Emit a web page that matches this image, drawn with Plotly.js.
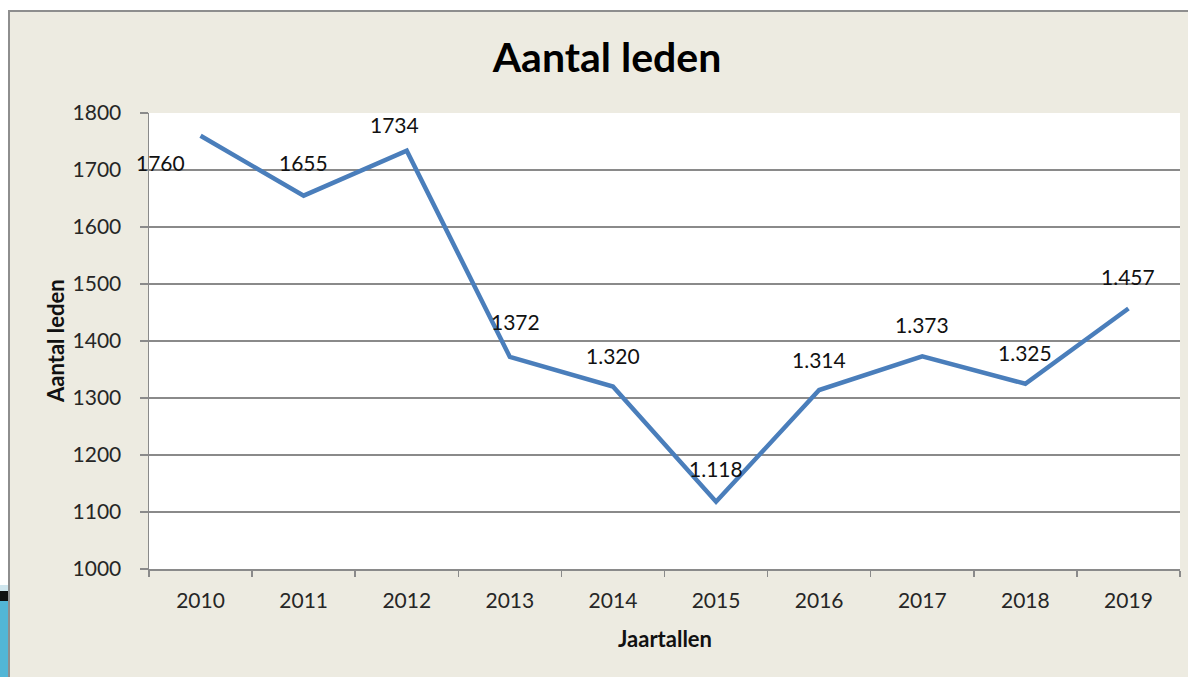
<!DOCTYPE html>
<html>
<head>
<meta charset="utf-8">
<script src="https://cdn.plot.ly/plotly-3.0.1.min.js"></script>
<style>
  html, body { margin: 0; padding: 0; background: #ffffff; width: 1188px; height: 677px; overflow: hidden; }
  #frame { position: absolute; left: 8px; top: 10px; width: 1180px; height: 667px; background: #EDEBE1;
           border-left: 2px solid #8e8e8e; border-top: 2px solid #8e8e8e; box-sizing: border-box; }
  #deco1 { position: absolute; left: 0; top: 585px; width: 8px; height: 6px; background: #cfe6ee; }
  #deco2 { position: absolute; left: 0; top: 591px; width: 8px; height: 10px; background: #111; }
  #deco3 { position: absolute; left: 0; top: 601px; width: 8px; height: 76px; background: #52b6d6; }
  #chart { position: absolute; left: 0; top: 0; width: 1188px; height: 677px; }
</style>
</head>
<body>
<div id="frame"></div>
<div id="deco1"></div><div id="deco2"></div><div id="deco3"></div>
<div id="chart"></div>
<script>
// ---- data ----
const years = ["2010", "2011", "2012", "2013", "2014", "2015", "2016", "2017", "2018", "2019"];
const members = [1760, 1655, 1734, 1372, 1320, 1118, 1314, 1373, 1325, 1457];
const labelTexts = ["1760", "1655", "1734", "1372", "1.320", "1.118", "1.314", "1.373", "1.325", "1.457"];
const yTicks = [1000, 1100, 1200, 1300, 1400, 1500, 1600, 1700, 1800];

// ---- style: label pixel offsets relative to each point ----
const labelDx = [-40, 0, -12, 6, 0, 0, 0, 0, 0, 0];
const labelDy = [27, -33, -26, -35, -31, -33, -31, -32, -31, -32];

const FONT = "Lato, 'Open Sans', sans-serif";
const TXT = "#111111";
const TICK = "#262626";

const annotations = years.map((yr, i) => ({
  x: i, y: members[i], xref: "x", yref: "y",
  text: labelTexts[i], showarrow: false,
  xshift: labelDx[i], yshift: -labelDy[i],
  font: { family: FONT, size: 21, color: TXT }
}));

annotations.push({
  xref: "paper", yref: "paper", x: 0, y: 0.5, xshift: -94,
  xanchor: "center", yanchor: "middle", textangle: -90, showarrow: false,
  text: "<b>Aantal leden</b>", font: { family: FONT, size: 22, color: TXT }
});
annotations.push({
  xref: "paper", yref: "paper", x: 0.5, y: 0, yshift: -69,
  xanchor: "center", yanchor: "middle", showarrow: false,
  text: "<b>Jaartallen</b>", font: { family: FONT, size: 22, color: TXT }
});

const trace = {
  type: "scatter", mode: "lines",
  x: years, y: members,
  line: { color: "#4A7EBB", width: 4.5 },
  hoverinfo: "skip"
};

const layout = {
  width: 1188, height: 677,
  margin: { l: 149, r: 8, t: 113, b: 108 },
  paper_bgcolor: "rgba(0,0,0,0)",
  plot_bgcolor: "#ffffff",
  showlegend: false,
  title: {
    text: "<b>Aantal leden</b>",
    font: { family: FONT, size: 41, color: "#000000" },
    x: 607 / 1188, xanchor: "center",
    y: 1 - 58 / 677, yanchor: "middle", xref: "container", yref: "container"
  },
  xaxis: {
    type: "category",
    categoryorder: "array", categoryarray: years,
    range: [-0.5, years.length - 0.5],
    tickson: "boundaries",
    ticks: "outside", ticklen: 6, tickcolor: "#8a8a8a", tickwidth: 1.5,
    showline: true, linecolor: "#8a8a8a", linewidth: 1.5,
    showgrid: false, zeroline: false,
    tickfont: { family: FONT, size: 21, color: TICK },
    ticklabelstandoff: 12,
    fixedrange: true
  },
  yaxis: {
    range: [1000, 1800],
    tickvals: yTicks, ticktext: yTicks.map(String),
    ticks: "outside", ticklen: 8, tickcolor: "#8a8a8a", tickwidth: 1.5,
    showline: true, linecolor: "#8a8a8a", linewidth: 1.5,
    showgrid: true, gridcolor: "#8a8a8a", gridwidth: 1.5,
    zeroline: false,
    tickfont: { family: FONT, size: 21, color: TICK },
    ticklabelstandoff: 14,
    fixedrange: true
  },
  annotations: annotations
};

Plotly.newPlot("chart", [trace], layout, { staticPlot: true, displayModeBar: false });
</script>
</body>
</html>
